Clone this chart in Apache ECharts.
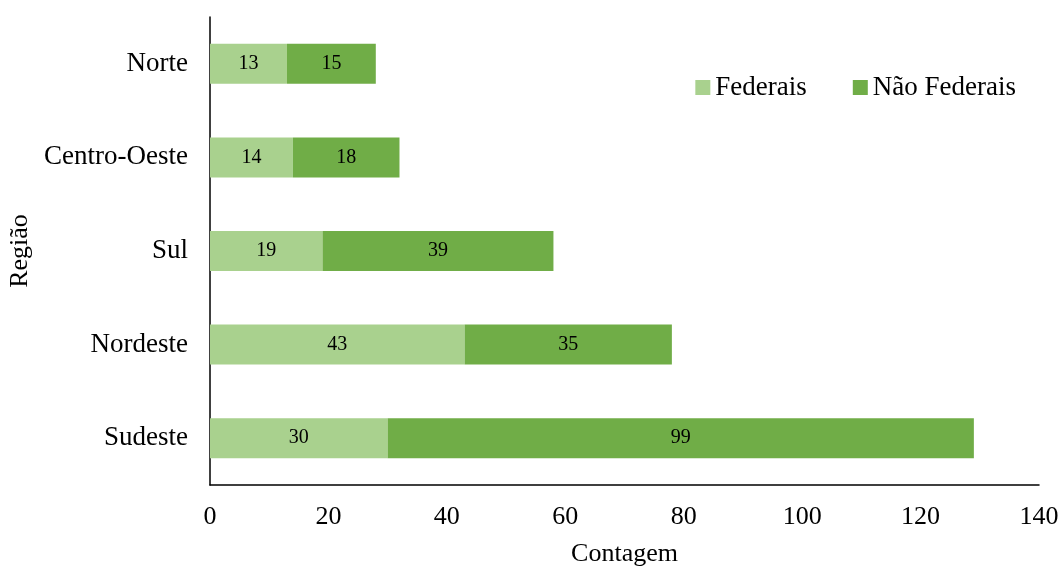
<!DOCTYPE html>
<html>
<head>
<meta charset="utf-8">
<script src="https://cdn.jsdelivr.net/npm/echarts@6/dist/echarts.min.js"></script>
<style>
  html, body { margin: 0; padding: 0; background: #fff; }
  #chart { width: 1063px; height: 566px; }
</style>
</head>
<body>
<div id="chart"></div>
<script>
// listed bottom to top, as the category axis draws them
const regioes = ['Sudeste', 'Nordeste', 'Sul', 'Centro-Oeste', 'Norte'];
const federais = [30, 43, 19, 14, 13];
const naoFederais = [99, 35, 39, 18, 15];
const xTicks = { min: 0, max: 140, interval: 20 };

const font = 'Liberation Serif, Times New Roman, serif';
const chart = echarts.init(document.getElementById('chart'));

const labelStyle = {
  show: true,
  position: 'inside',
  color: '#000',
  fontFamily: font,
  fontSize: 20
};

chart.setOption({
  animation: false,
  textStyle: { fontFamily: font },
  grid: { left: 210, right: 24, top: 17, bottom: 81, outerBoundsMode: 'none' },
  legend: {
    top: 69,
    right: 42,
    icon: 'rect',
    itemWidth: 15,
    itemHeight: 15,
    itemGap: 46,
    textStyle: { fontFamily: font, fontSize: 27, color: '#000' },
    data: ['Federais', 'Não Federais']
  },
  xAxis: {
    type: 'value',
    min: xTicks.min,
    max: xTicks.max,
    interval: xTicks.interval,
    name: 'Contagem',
    nameLocation: 'middle',
    nameGap: 56,
    nameTextStyle: { fontFamily: font, fontSize: 26, color: '#000' },
    axisLine: { show: true, lineStyle: { color: '#000', width: 1.5 } },
    axisTick: { show: false },
    splitLine: { show: false },
    axisLabel: { fontFamily: font, fontSize: 26, color: '#000', margin: 19 }
  },
  yAxis: {
    type: 'category',
    data: regioes,
    name: 'Região',
    nameLocation: 'middle',
    nameRotate: 90,
    nameGap: 174,
    nameTextStyle: { fontFamily: font, fontSize: 26, color: '#000' },
    axisLine: { show: true, lineStyle: { color: '#000', width: 1.5 } },
    axisTick: { show: false },
    axisLabel: { fontFamily: font, fontSize: 27, color: '#000', margin: 22 }
  },
  series: [
    {
      name: 'Federais',
      type: 'bar',
      stack: 'total',
      barWidth: 40,
      itemStyle: { color: '#A9D18E' },
      label: labelStyle,
      data: federais
    },
    {
      name: 'Não Federais',
      type: 'bar',
      stack: 'total',
      barWidth: 40,
      itemStyle: { color: '#70AD47' },
      label: labelStyle,
      data: naoFederais
    }
  ]
});
</script>
</body>
</html>
